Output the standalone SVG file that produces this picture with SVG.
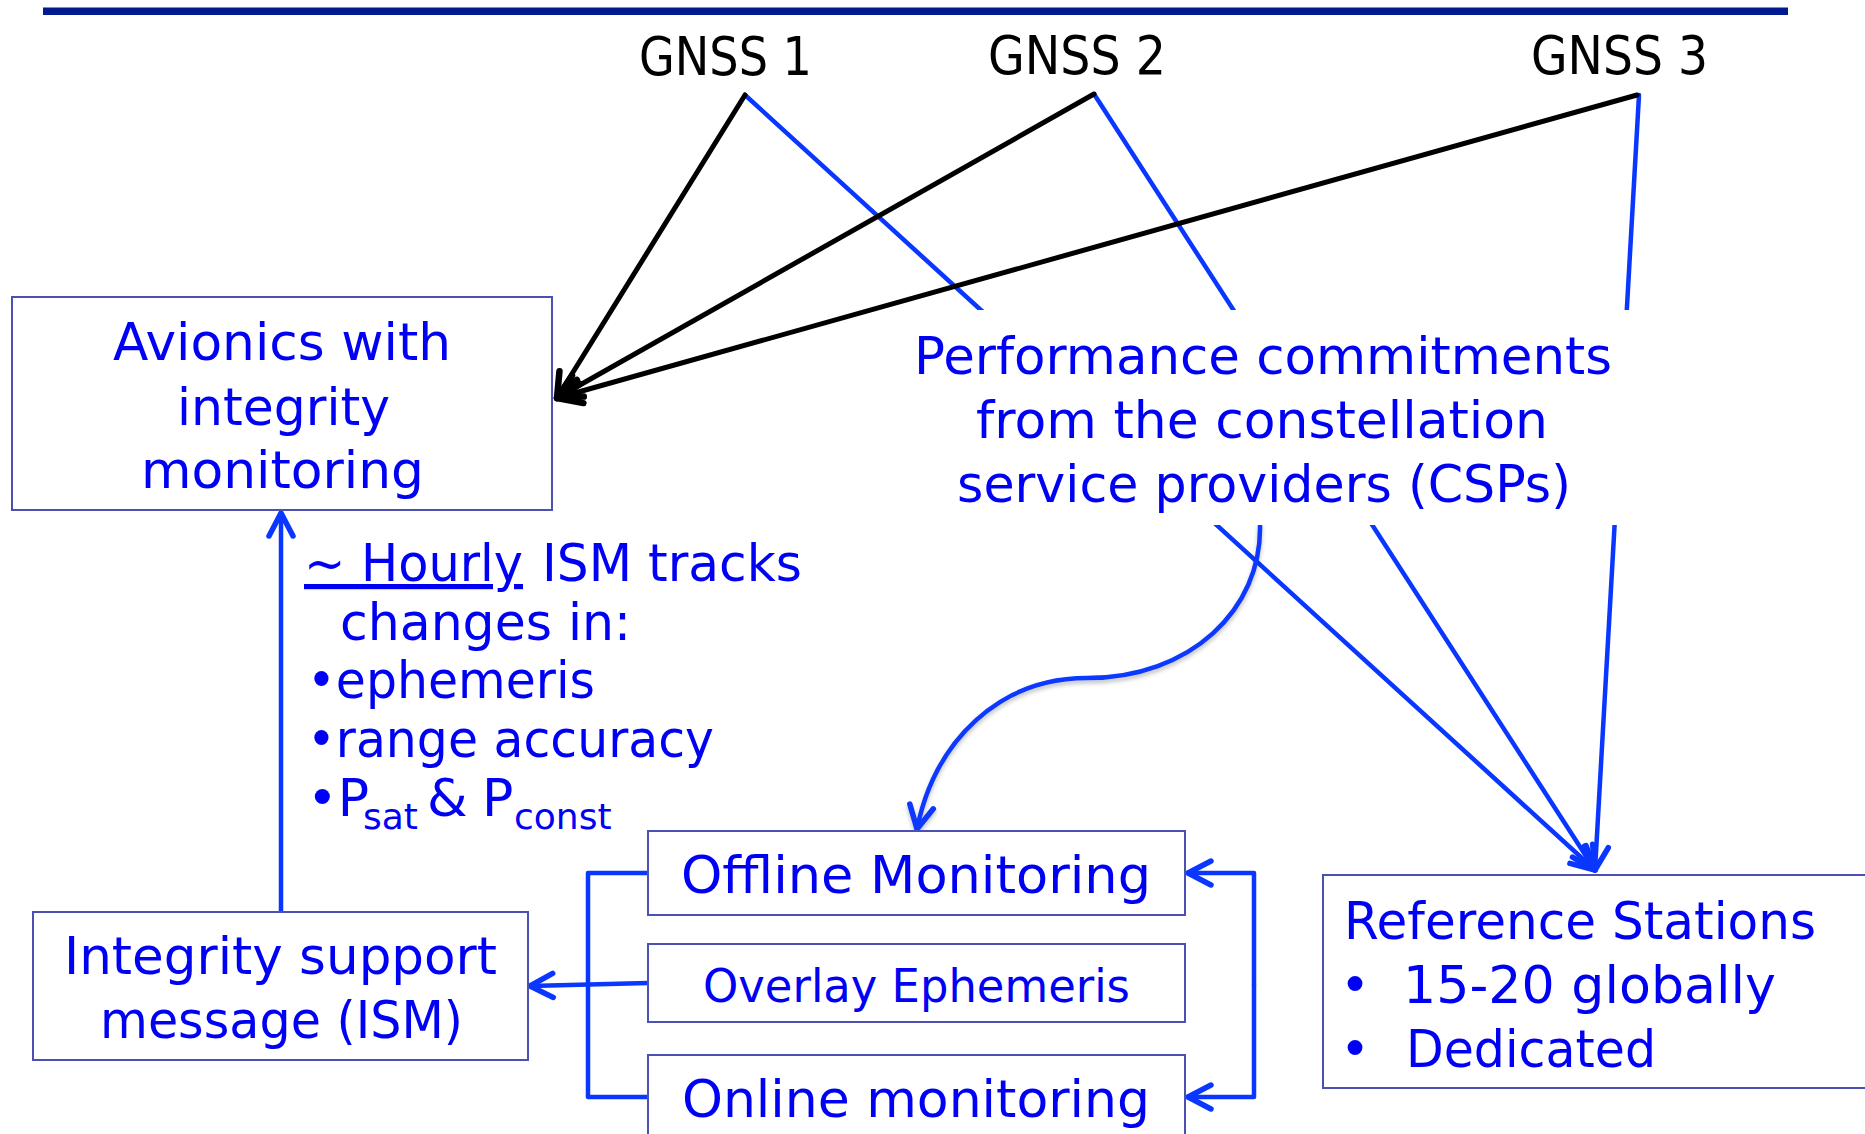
<svg xmlns="http://www.w3.org/2000/svg" width="1865" height="1134" viewBox="0 0 1865 1134">
<style>
  text { font-family: "DejaVu Sans", "Liberation Sans", sans-serif; }
  .k { fill: #000000; font-size: 54px; }
  .t { fill: #0000f5; font-size: 52px; }
  .box { fill: #ffffff; stroke: #4b50b2; stroke-width: 2; }
  .lb { fill: none; stroke: #0a37ff; stroke-width: 4.5; stroke-linecap: round; stroke-linejoin: round; }
  .lk { fill: none; stroke: #000000; stroke-width: 5; stroke-linecap: round; }
</style>
<defs>
  <marker id="ab" viewBox="-32 -18 38 36" refX="0" refY="0" markerWidth="38" markerHeight="36" markerUnits="userSpaceOnUse" orient="auto" overflow="visible">
    <path d="M-23,-12 L0,0 L-23,12" fill="none" stroke="#0a37ff" stroke-width="5.5" stroke-linecap="round" stroke-linejoin="round"/>
  </marker>
  <marker id="ak" viewBox="-32 -18 38 36" refX="0" refY="0" markerWidth="38" markerHeight="36" markerUnits="userSpaceOnUse" orient="auto" overflow="visible">
    <path d="M-24,-12 L0,0 L-24,12" fill="none" stroke="#000000" stroke-width="6.5" stroke-linecap="round" stroke-linejoin="round"/>
  </marker>
  <filter id="sh" x="-10%" y="-10%" width="120%" height="130%">
    <feDropShadow dx="0" dy="3" stdDeviation="2" flood-color="#000000" flood-opacity="0.25"/>
  </filter>
</defs>

<rect id="topbar" x="43" y="7.5" width="1745" height="7.5" fill="#001a8f"/>

<g id="connectors">
  <!-- blue lines from GNSS to reference stations (partly hidden by the CSP label) -->
  <path class="lb" d="M745,95 L1595,870" marker-end="url(#ab)"/>
  <path class="lb" d="M1094,94 L1595,870" marker-end="url(#ab)"/>
  <path class="lb" d="M1639,95 L1595,870" marker-end="url(#ab)"/>
  <!-- black lines from GNSS to avionics -->
  <path class="lk" d="M745,95 L557,398" marker-end="url(#ak)"/>
  <path class="lk" d="M1094,94 L557,398" marker-end="url(#ak)"/>
  <path class="lk" d="M1637,95 L557,398" stroke-width="6.5" marker-end="url(#ak)"/>
  <!-- CSP to offline monitoring -->
  <path class="lb" d="M1260,525 C1262,610 1190,678 1087,678 C1000,678 935,740 917,829" stroke-width="5" filter="url(#sh)" marker-end="url(#ab)"/>
  <!-- ISM to avionics -->
  <path class="lb" d="M281,912 L281,513" marker-end="url(#ab)"/>
  <!-- left bracket -->
  <path class="lb" d="M648,873 L588,873 L588,1097 L648,1097" stroke-width="6"/>
  <path class="lb" d="M648,983 L530,986" stroke-width="6" marker-end="url(#ab)"/>
  <!-- right bracket -->
  <path class="lb" d="M1254,985 L1254,873 L1188,873" stroke-width="6" marker-end="url(#ab)"/>
  <path class="lb" d="M1254,985 L1254,1097 L1188,1097" stroke-width="6" marker-end="url(#ab)"/>
  <path class="lb" d="M1323,983 L1188,983" stroke-width="7" filter="url(#sh)" marker-end="url(#ab)"/>
</g>

<g id="gnss1"><text class="k" x="639" y="75" textLength="173" lengthAdjust="spacingAndGlyphs">GNSS 1</text></g>
<g id="gnss2"><text class="k" x="988" y="74" textLength="178" lengthAdjust="spacingAndGlyphs">GNSS 2</text></g>
<g id="gnss3"><text class="k" x="1531" y="74" textLength="177" lengthAdjust="spacingAndGlyphs">GNSS 3</text></g>

<g id="avionics">
  <rect class="box" x="12" y="297" width="540" height="213"/>
  <text class="t" x="113" y="360" textLength="338" lengthAdjust="spacingAndGlyphs">Avionics with</text>
  <text class="t" x="177" y="425" textLength="213" lengthAdjust="spacingAndGlyphs">integrity</text>
  <text class="t" x="141" y="488" textLength="283" lengthAdjust="spacingAndGlyphs">monitoring</text>
</g>

<g id="csp">
  <rect x="900" y="310" width="745" height="215" fill="#ffffff"/>
  <text class="t" style="font-size:51px" x="914" y="374" textLength="698" lengthAdjust="spacingAndGlyphs">Performance commitments</text>
  <text class="t" style="font-size:51px" x="976" y="438" textLength="572" lengthAdjust="spacingAndGlyphs">from the constellation</text>
  <text class="t" style="font-size:51px" x="957" y="502" textLength="614" lengthAdjust="spacingAndGlyphs">service providers (CSPs)</text>
</g>

<g id="ism-note">
  <text class="t" x="304" y="581" textLength="219" lengthAdjust="spacingAndGlyphs" text-decoration="underline">~ Hourly</text>
  <text class="t" x="542" y="581" textLength="260" lengthAdjust="spacingAndGlyphs">ISM tracks</text>
  <text class="t" x="340" y="640" textLength="291" lengthAdjust="spacingAndGlyphs">changes in:</text>
  <text class="t" x="307" y="698" textLength="288" lengthAdjust="spacingAndGlyphs">•ephemeris</text>
  <text class="t" x="307" y="757" textLength="407" lengthAdjust="spacingAndGlyphs">•range accuracy</text>
  <text class="t"><tspan x="307" y="816">•P</tspan><tspan x="363" y="829" style="font-size:36px">sat</tspan><tspan x="427" y="816">&amp;</tspan><tspan x="482" y="816">P</tspan><tspan x="514" y="829" style="font-size:36px">const</tspan></text>
</g>

<g id="ism">
  <rect class="box" x="33" y="912" width="495" height="148"/>
  <text class="t" style="font-size:51px" x="64" y="974" textLength="433" lengthAdjust="spacingAndGlyphs">Integrity support</text>
  <text class="t" style="font-size:51px" x="100" y="1038" textLength="363" lengthAdjust="spacingAndGlyphs">message (ISM)</text>
</g>

<g id="offline">
  <rect class="box" x="648" y="831" width="537" height="84"/>
  <text class="t" x="681" y="893" textLength="470" lengthAdjust="spacingAndGlyphs">Offline Monitoring</text>
</g>

<g id="overlay">
  <rect class="box" x="648" y="944" width="537" height="78"/>
  <text class="t" style="font-size:46px" x="703" y="1002" textLength="427" lengthAdjust="spacingAndGlyphs">Overlay Ephemeris</text>
</g>

<g id="online">
  <rect class="box" x="648" y="1055" width="537" height="92"/>
  <text class="t" x="682" y="1117" textLength="468" lengthAdjust="spacingAndGlyphs">Online monitoring</text>
</g>

<g id="refstations">
  <rect class="box" x="1323" y="875" width="560" height="213"/>
  <text class="t" style="font-size:51px" x="1344" y="939" textLength="472" lengthAdjust="spacingAndGlyphs">Reference Stations</text>
  <text class="t" style="font-size:51px" x="1340" y="1003">•</text>
  <text class="t" style="font-size:51px" x="1403" y="1003" textLength="373" lengthAdjust="spacingAndGlyphs">15-20 globally</text>
  <text class="t" style="font-size:51px" x="1340" y="1067">•</text>
  <text class="t" style="font-size:51px" x="1406" y="1067" textLength="250" lengthAdjust="spacingAndGlyphs">Dedicated</text>
</g>
</svg>
